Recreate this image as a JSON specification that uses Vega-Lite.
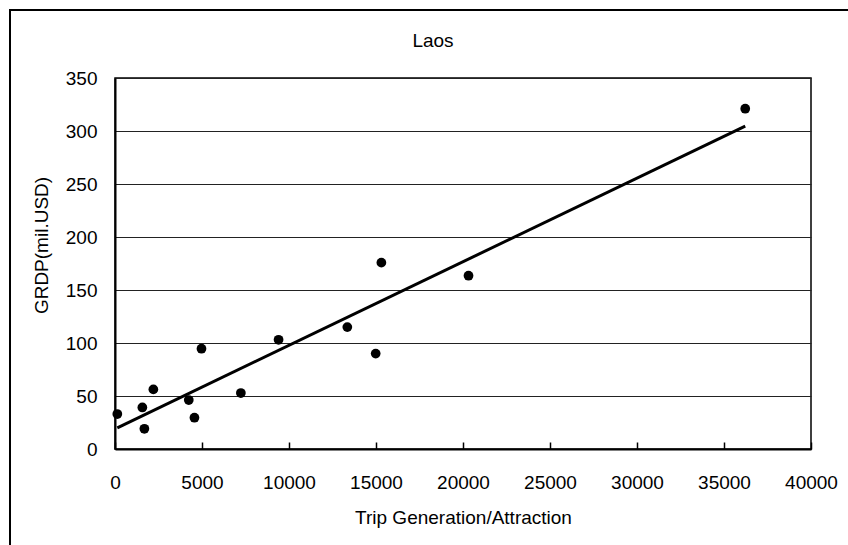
{
  "$schema": "https://vega.github.io/schema/vega-lite/v6.json",
  "width": 696,
  "height": 371,
  "autosize": {"type": "none"},
  "padding": {"left": 115, "top": 78, "right": 37, "bottom": 96},
  "background": "white",
  "title": {
    "text": "Laos",
    "font": "Liberation Sans",
    "fontSize": 19,
    "fontWeight": "normal",
    "color": "#000000",
    "anchor": "middle",
    "dx": -30,
    "baseline": "alphabetic",
    "offset": -57
  },
  "config": {
    "view": {"stroke": "#000000", "strokeWidth": 1.5},
    "axis": {
      "labelFont": "Liberation Sans",
      "labelFontSize": 19,
      "labelColor": "#000000",
      "titleFont": "Liberation Sans",
      "titleFontSize": 19,
      "titleFontWeight": "normal",
      "titleColor": "#000000",
      "domainColor": "#000000",
      "domainWidth": 2
    }
  },
  "data": {
    "values": [
      {"trips": 133, "grdp": 33},
      {"trips": 1572, "grdp": 39.2},
      {"trips": 1688, "grdp": 19.1},
      {"trips": 2205, "grdp": 56.2},
      {"trips": 4240, "grdp": 46.2},
      {"trips": 4566, "grdp": 29.5},
      {"trips": 4970, "grdp": 94.6},
      {"trips": 7233, "grdp": 52.8},
      {"trips": 9400, "grdp": 103},
      {"trips": 13352, "grdp": 115},
      {"trips": 14982, "grdp": 90},
      {"trips": 15309, "grdp": 175.8},
      {"trips": 20317, "grdp": 163.5},
      {"trips": 36220, "grdp": 321}
    ]
  },
  "layer": [
    {
      "mark": {"type": "rect", "fillOpacity": 0, "stroke": "#000000", "strokeWidth": 1.5, "clip": false},
      "encoding": {
        "x": {"datum": -6040, "type": "quantitative", "scale": {"domain": [0, 40000], "nice": false}},
        "x2": {"datum": 45000},
        "y": {"datum": 414, "type": "quantitative", "scale": {"domain": [0, 350], "nice": false}},
        "y2": {"datum": -150}
      }
    },
    {
      "mark": {"type": "circle", "color": "#000000", "opacity": 1, "size": 95},
      "encoding": {
        "x": {
          "field": "trips",
          "type": "quantitative",
          "scale": {"domain": [0, 40000], "nice": false},
          "axis": {
            "title": "Trip Generation/Attraction",
            "values": [0, 5000, 10000, 15000, 20000, 25000, 30000, 35000, 40000],
            "format": "d",
            "grid": false,
            "ticks": true,
            "tickSize": -7,
            "tickColor": "#000000",
            "tickWidth": 1.5,
            "labelPadding": 31,
            "labelFlush": false,
            "labelOverlap": false,
            "titleBaseline": "alphabetic",
            "titleY": 74
          }
        },
        "y": {
          "field": "grdp",
          "type": "quantitative",
          "scale": {"domain": [0, 350], "nice": false},
          "axis": {
            "title": "GRDP(mil.USD)",
            "values": [0, 50, 100, 150, 200, 250, 300, 350],
            "format": "d",
            "grid": true,
            "gridColor": "#222222",
            "gridWidth": 1,
            "ticks": false,
            "labelPadding": 18,
            "labelFlush": false,
            "titleBaseline": "alphabetic",
            "titleX": -68,
            "titleY": 167
          }
        }
      }
    },
    {
      "mark": {"type": "line", "color": "#000000", "strokeWidth": 3},
      "transform": [{"regression": "grdp", "on": "trips"}],
      "encoding": {
        "x": {"field": "trips", "type": "quantitative", "scale": {"domain": [0, 40000], "nice": false}},
        "y": {"field": "grdp", "type": "quantitative", "scale": {"domain": [0, 350], "nice": false}}
      }
    }
  ]
}
